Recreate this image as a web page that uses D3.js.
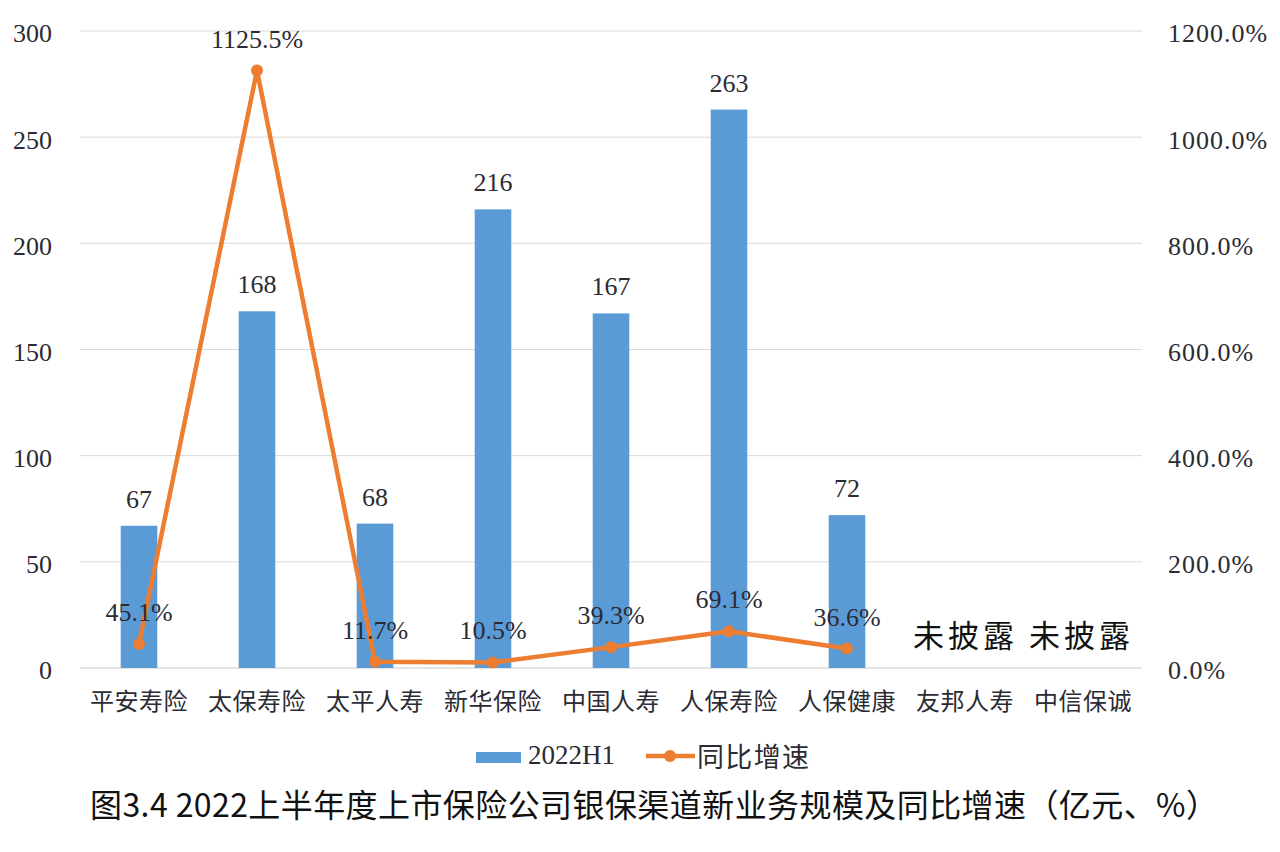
<!DOCTYPE html>
<html><head><meta charset="utf-8">
<script src="https://cdn.jsdelivr.net/npm/d3@7"></script>
<style>body{margin:0;background:#fff}svg{display:block}</style>
</head><body>
<svg id="c" width="1280" height="852"></svg>
<script>
const categories = ["平安寿险","太保寿险","太平人寿","新华保险","中国人寿","人保寿险","人保健康","友邦人寿","中信保诚"];
const scaleValues = [67,168,68,216,167,263,72,null,null];
const growthValues = [45.1,1125.5,11.7,10.5,39.3,69.1,36.6,null,null];
const leftTicks = [0,50,100,150,200,250,300];
const rightTicks = [0,200,400,600,800,1000,1200];
const seriesNames = ["2022H1","同比增速"];
const undisclosedText = "未披露 未披露";
const titleText = "图3.4 2022上半年度上市保险公司银保渠道新业务规模及同比增速（亿元、%）";

const svg = d3.select("#c");
const serif = "'Liberation Serif','DejaVu Serif',serif";
const cjk = "'Noto Sans CJK SC','Noto Sans',sans-serif";
const blue = "#5B9BD5", orange = "#ED7D31", txt = "#2b2b33";
const pLeft = 80, pRight = 1142, pTop = 31, pBottom = 668;

const x = d3.scaleBand().domain(categories).range([pLeft, pRight]).paddingInner(0.69).paddingOuter(0.345);
const y = d3.scaleLinear().domain([0,300]).range([pBottom, pTop]);
const y2 = d3.scaleLinear().domain([0,1200]).range([pBottom, pTop]);
const cx = d => x(d) + x.bandwidth()/2;

// gridlines
svg.append("g").selectAll("line").data(leftTicks).join("line")
  .attr("x1", pLeft).attr("x2", pRight).attr("y1", d=>y(d)).attr("y2", d=>y(d))
  .attr("stroke", d=> d===0 ? "#c8c8c8" : "#d9d9d9").attr("stroke-width",1);

// left axis
const ga = svg.append("g").attr("transform",`translate(${pLeft},0)`)
  .call(d3.axisLeft(y).tickValues(leftTicks).tickSize(0).tickPadding(28));
ga.select(".domain").remove();
ga.selectAll("text").attr("font-family", serif).attr("font-size", 26).attr("fill",txt).attr("dy","0.42em");

// right axis
const gr = svg.append("g").attr("transform",`translate(${pRight},0)`)
  .call(d3.axisRight(y2).tickValues(rightTicks).tickSize(0).tickPadding(26).tickFormat(d=>d.toFixed(1)+"%"));
gr.select(".domain").remove();
gr.selectAll("text").attr("font-family", serif).attr("font-size", 26).attr("fill",txt)
  .attr("letter-spacing", 1).attr("dy","0.42em");

// category labels
svg.append("g").selectAll("text").data(categories).join("text")
  .attr("x", d=>cx(d)).attr("y", 710).attr("text-anchor","middle")
  .attr("font-family", cjk).attr("font-size", 24).attr("letter-spacing", 0.5).attr("fill",txt).text(d=>d);

// bars
const barData = categories.map((c,i)=>({c, v: scaleValues[i]})).filter(d=>d.v!=null);
svg.append("g").selectAll("rect").data(barData).join("rect")
  .attr("x", d=>x(d.c)).attr("width", x.bandwidth())
  .attr("y", d=>y(d.v)).attr("height", d=>y(0)-y(d.v)).attr("fill", blue);
svg.append("g").selectAll("text").data(barData).join("text")
  .attr("x", d=>cx(d.c)).attr("y", d=>y(d.v)-18).attr("text-anchor","middle")
  .attr("font-family", serif).attr("font-size", 26).attr("fill",txt).text(d=>d.v);

// line
const lineData = categories.map((c,i)=>({c, v: growthValues[i]})).filter(d=>d.v!=null);
svg.append("path").datum(lineData)
  .attr("d", d3.line().x(d=>cx(d.c)).y(d=>y2(d.v)))
  .attr("fill","none").attr("stroke", orange).attr("stroke-width",4.5).attr("stroke-linejoin","round");
svg.append("g").selectAll("circle").data(lineData).join("circle")
  .attr("cx", d=>cx(d.c)).attr("cy", d=>y2(d.v)).attr("r",6).attr("fill", orange);
svg.append("g").selectAll("text").data(lineData).join("text")
  .attr("x", d=>cx(d.c)).attr("y", d=>y2(d.v)-23).attr("text-anchor","middle")
  .attr("font-family", serif).attr("font-size", 26).attr("fill",txt)
  .text(d=>d.v.toFixed(1)+"%");

// undisclosed
svg.append("text").attr("x", 913).attr("y", 647)
  .attr("font-family", cjk).attr("font-size", 31).attr("fill","#111")
  .attr("textLength", 217).attr("lengthAdjust","spacing")
  .text(undisclosedText);

// legend
const lg = svg.append("g");
lg.append("rect").attr("x",476).attr("y",752).attr("width",45).attr("height",11).attr("fill",blue);
lg.append("text").attr("x",528).attr("y",764).attr("font-family",serif).attr("font-size",27).attr("fill",txt).text(seriesNames[0]);
lg.append("line").attr("x1",646).attr("x2",695).attr("y1",756).attr("y2",756).attr("stroke",orange).attr("stroke-width",4.5);
lg.append("circle").attr("cx",670).attr("cy",756).attr("r",6).attr("fill",orange);
lg.append("text").attr("x",697).attr("y",767).attr("font-family",cjk).attr("font-size",27)
  .attr("textLength",112).attr("lengthAdjust","spacing").attr("fill",txt).text(seriesNames[1]);

// title
svg.append("text").attr("x",90).attr("y",817)
  .attr("font-family",cjk).attr("font-size",32).attr("fill","#111")
  .attr("textLength",1128).attr("lengthAdjust","spacing").text(titleText);
</script>
</body></html>
